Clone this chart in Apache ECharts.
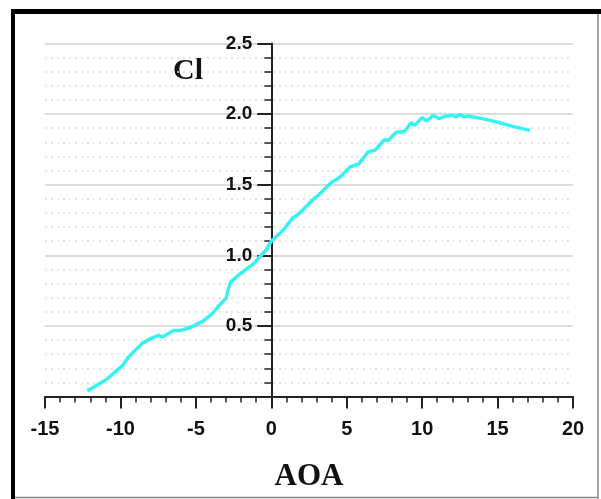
<!DOCTYPE html>
<html>
<head>
<meta charset="utf-8">
<script src="https://cdn.jsdelivr.net/npm/echarts@6/dist/echarts.min.js"></script>
<style>
  html, body { margin: 0; padding: 0; background: #fff; }
  #chart { width: 601px; height: 499px; }
</style>
</head>
<body>
<div id="chart"></div>
<script>
// angle of attack (deg) and lift coefficient
var aoa = [-12.2, -11.7, -11.0, -10.5, -9.9, -9.5, -9.0, -8.5, -7.9, -7.5,
  -7.2, -6.9, -6.5, -6.0, -5.4, -4.8, -4.5, -3.85, -3.5, -3.0,
  -2.85, -2.7, -2.1, -1.2, -0.3, 0.0, 0.6, 0.8, 1.46, 1.8,
  2.7, 3.2, 4.0, 4.55, 5.2, 5.8, 6.4, 6.9, 7.5, 7.75,
  8.3, 8.75, 9.0, 9.25, 9.5, 10.0, 10.3, 10.75, 11.1, 11.5,
  12.0, 12.2, 12.5, 12.8, 13.05, 13.6, 14.3, 15.2, 16.0, 17.15]
var cl = [0.04, 0.07, 0.115, 0.16, 0.215, 0.275, 0.33, 0.38, 0.415, 0.432,
  0.422, 0.44, 0.467, 0.468, 0.487, 0.52, 0.535, 0.593, 0.64, 0.695,
  0.76, 0.81, 0.866, 0.937, 1.043, 1.10, 1.16, 1.18, 1.268, 1.29,
  1.387, 1.434, 1.517, 1.553, 1.624, 1.648, 1.73, 1.747, 1.819, 1.814,
  1.873, 1.873, 1.897, 1.94, 1.92, 1.975, 1.951, 1.991, 1.968, 1.984,
  1.991, 1.98, 1.996, 1.98, 1.987, 1.975, 1.961, 1.937, 1.913, 1.885]

var xMin = -15
var xMax = 20
var gridLeft = 45
var gridRight = 28

var chart = echarts.init(document.getElementById('chart'))

// y axis sits at AOA = 0, so shift it right from the grid's left edge
var plotWidth = 601 - gridLeft - gridRight
var yAxisShift = plotWidth * (0 - xMin) / (xMax - xMin)

chart.setOption({
  animation: false,
  backgroundColor: '#fff',
  grid: {
    left: gridLeft,
    right: gridRight,
    top: 43.5,
    bottom: 102.5
  },
  graphic: [
    { type: 'line', shape: { x1: 13, y1: 9, x2: 13, y2: 499 }, style: { stroke: '#000', lineWidth: 4 } },
    { type: 'line', shape: { x1: 11, y1: 11.5, x2: 601, y2: 11.5 }, style: { stroke: '#000', lineWidth: 5 } },
    { type: 'line', shape: { x1: 598, y1: 14, x2: 598, y2: 499 }, style: { stroke: '#888', lineWidth: 1.5 } },
    { type: 'line', shape: { x1: 15, y1: 497.5, x2: 598, y2: 497.5 }, style: { stroke: '#888', lineWidth: 1.5 } },
    {
      type: 'text',
      left: 173,
      top: 56,
      style: {
        text: 'Cl',
        font: 'bold 30px "Liberation Serif", "Times New Roman", serif',
        fill: '#111'
      }
    }
  ],
  xAxis: {
    type: 'value',
    min: xMin,
    max: xMax,
    interval: 5,
    name: 'AOA',
    nameLocation: 'middle',
    nameGap: 65,
    nameTextStyle: {
      fontFamily: '"Liberation Serif", "Times New Roman", serif',
      fontWeight: 'bold',
      fontSize: 31,
      color: '#111'
    },
    axisLine: { onZero: false, lineStyle: { color: '#222', width: 2 } },
    axisTick: { inside: false, length: 12, lineStyle: { color: '#222', width: 2 } },
    minorTick: { show: true, splitNumber: 5, length: 6, lineStyle: { color: '#222', width: 1.5 } },
    axisLabel: {
      margin: 23,
      fontFamily: '"Liberation Sans", Arial, sans-serif',
      fontWeight: 'bold',
      fontSize: 20,
      color: '#111'
    },
    splitLine: { show: false }
  },
  yAxis: {
    type: 'value',
    min: 0,
    max: 2.5,
    interval: 0.5,
    position: 'left',
    offset: -yAxisShift,
    axisLine: { onZero: false, lineStyle: { color: '#222', width: 2 } },
    axisTick: { inside: false, length: 14, lineStyle: { color: '#222', width: 2 } },
    minorTick: { show: true, splitNumber: 5, length: 7, lineStyle: { color: '#222', width: 1.5 } },
    axisLabel: {
      margin: 19,
      fontFamily: '"Liberation Sans", Arial, sans-serif',
      fontWeight: 'bold',
      fontSize: 19,
      color: '#111',
      formatter: function (v) { return v === 0 ? '' : v.toFixed(1) }
    },
    splitLine: { show: true, lineStyle: { color: '#dcdcdc', width: 2 } },
    minorSplitLine: { show: true, lineStyle: { color: '#dadada', width: 1.5, type: [2, 4] } }
  },
  series: [{
    type: 'line',
    data: aoa.map(function (a, i) { return [a, cl[i]] }),
    showSymbol: false,
    lineStyle: { color: '#38f2f2', width: 3.5 },
    itemStyle: { color: '#38f2f2' }
  }]
})
</script>
</body>
</html>
